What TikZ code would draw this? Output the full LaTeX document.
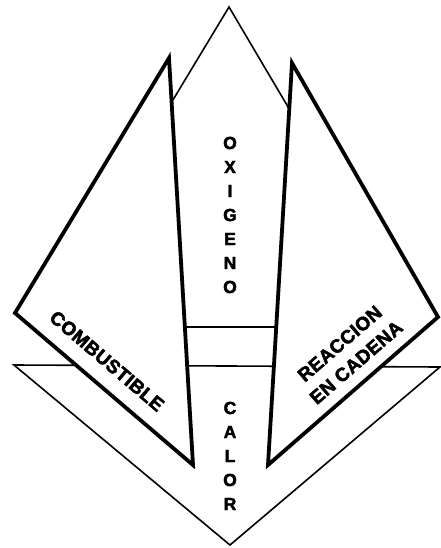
\documentclass[tikz,border=0pt]{standalone}
\usepackage{fontspec}
\setmainfont{Liberation Sans}
\newfontfamily\heavyfont[FakeBold=2.5]{Liberation Sans Bold}
\newfontfamily\widefont[LetterSpace=2,FakeBold=2.5]{Liberation Sans Bold}
\begin{document}
\begin{tikzpicture}[x=1pt,y=-1pt,line join=miter]
\tikzset{thin side/.style={draw,line width=1.6pt,fill=white},
thick side/.style={draw,line width=3.8pt,fill=white},
letter/.style={font=\heavyfont\fontsize{17.5}{18}\selectfont,inner sep=0pt},
side label/.style={font=\widefont\fontsize{19}{25}\selectfont,inner sep=0pt,align=center}}
\useasboundingbox (0,0) rectangle (440,548);
% oxigeno y calor
\path[thin side] (229,7)--(36,327)--(418,327)--cycle;
\path[thin side] (14,365)--(440,367)--(230,545)--cycle;
% combustible y reaccion en cadena
\path[thick side] (169,58)--(15,313)--(193,465)--cycle;
\path[thick side] (292,63)--(438,317)--(268,465)--cycle;
\foreach \ch [count=\i] in {O,X,I,G,E,N,O}
\node[letter] (ox\i) at (230,{143+24*(\i-1)}) {\ch};
\foreach \ch [count=\i] in {C,A,L,O,R}
\node[letter] (cal\i) at (230,{408+24*(\i-1)}) {\ch};
\node[side label,rotate=-40.5] (comb) at (107,361) {COMBUSTIBLE};
\node[side label,rotate=41] (reac) at (348,353) {REACCION\\EN CADENA};
\end{tikzpicture}
\end{document}
